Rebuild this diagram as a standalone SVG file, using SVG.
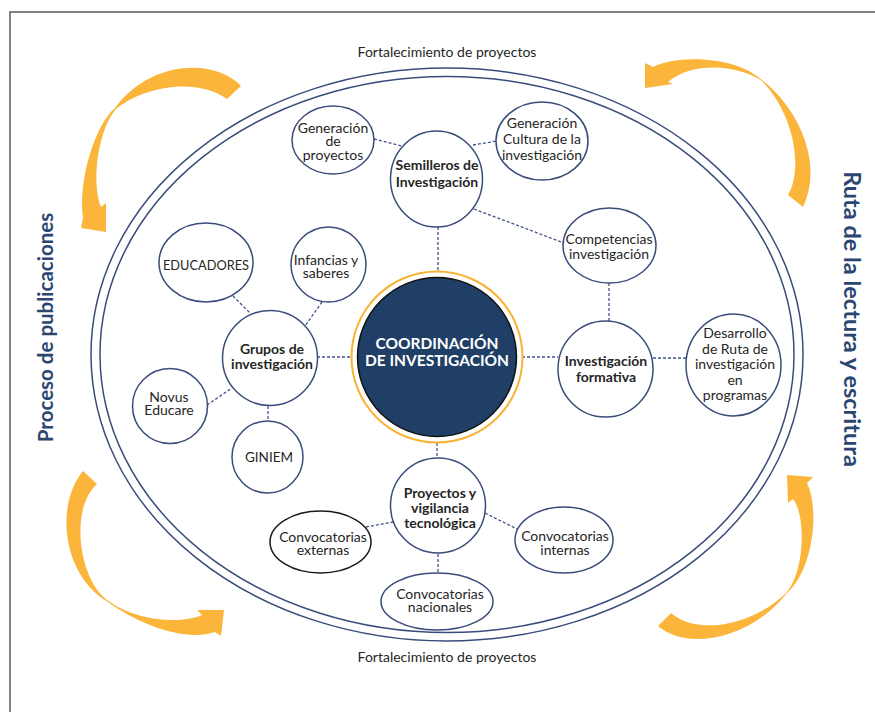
<svg xmlns="http://www.w3.org/2000/svg" width="875" height="712" viewBox="0 0 875 712">
<style>
  text { font-family: Lato, "Liberation Sans", sans-serif; fill: #262626; text-anchor: middle; }
  .lbl { font-size: 14px; }
  .b { font-size: 14px; font-weight: bold; }
  .node { fill: #ffffff; stroke: #3A4C7C; stroke-width: 1.5; }
  .ring { fill: none; stroke: #3A4C7C; stroke-width: 1.5; }
  .con line { stroke: #41528A; stroke-width: 1.3; stroke-dasharray: 3 2; fill: none; }
  .arrow { fill: #FBB53A; }
  .side { font-weight: bold; fill: #2B4670; }
</style>
<rect x="0" y="0" width="875" height="712" fill="#ffffff"/>
<path d="M10,712 L10,12 L875,12" fill="none" stroke="#595959" stroke-width="1.5"/>

<g id="frame-ellipses">
  <ellipse class="ring" cx="447" cy="354.5" rx="356" ry="286.5"/>
  <ellipse class="ring" cx="447" cy="354.5" rx="347" ry="278"/>
</g>

<g id="cycle-arrows">
  <path class="arrow" d="M241,86 C215,58 150,60 115,108 C95,125 78,180 83,218 L81,228 L106,232 L106,203 L101,207 C92,185 96,135 115,110 C140,88 195,76 227,99 Z"/>
  <path class="arrow" d="M645,63 L653,67 C675,55 735,55 762,80 C795,105 825,160 803,207 L788,195 C803,170 795,115 762,81 C740,66 695,60 668,82 L673,84 L645,88 Z"/>
  <path class="arrow" d="M83,471 C55,505 62,575 108,602 C140,625 185,642 215,632 L221,636 L224,610 L197,610 L202,615 C180,625 135,620 110,602 C80,585 68,510 97,484 Z"/>
  <path class="arrow" d="M658,626 C688,652 752,638 787,593 C813,570 820,510 807,483 L813,477 L787,475 L788,503 L793,499 C806,515 805,570 787,592 C758,622 700,638 671,613 Z"/>
</g>

<text class="lbl" x="447" y="57">Fortalecimiento de proyectos</text>
<text class="lbl" x="447" y="662">Fortalecimiento de proyectos</text>
<text class="side" font-size="20.5" transform="translate(53,327.5) rotate(-90)" x="0" y="0">Proceso de publicaciones</text>
<text class="side" font-size="23.5" transform="translate(844,319) rotate(90)" x="0" y="0">Ruta de la lectura y escritura</text>

<g id="connectors" class="con">
  <line x1="374" y1="139" x2="402" y2="146"/>
  <line x1="473" y1="145" x2="497" y2="141"/>
  <line x1="474" y1="209" x2="564" y2="243"/>
  <line x1="438" y1="227" x2="438" y2="270"/>
  <line x1="609" y1="283" x2="609" y2="321"/>
  <line x1="522" y1="357" x2="558" y2="357"/>
  <line x1="653" y1="358" x2="686" y2="358"/>
  <line x1="317" y1="357" x2="352" y2="357"/>
  <line x1="233" y1="296" x2="250" y2="313"/>
  <line x1="322" y1="302" x2="305" y2="326"/>
  <line x1="207" y1="405" x2="232" y2="388"/>
  <line x1="268" y1="406" x2="268" y2="421"/>
  <line x1="437" y1="443" x2="437" y2="457"/>
  <line x1="366" y1="527" x2="393" y2="522"/>
  <line x1="485" y1="513" x2="517" y2="529"/>
  <line x1="438" y1="554" x2="438" y2="573"/>
</g>

<g id="coordinacion">
  <circle cx="437" cy="357" r="85.5" fill="none" stroke="#F9B233" stroke-width="2"/>
  <circle cx="437" cy="357" r="79.5" fill="#203F66" stroke="#111111" stroke-width="1.5"/>
  <text font-size="15.5" font-weight="bold" style="fill:#ffffff"><tspan x="437" y="349">COORDINACIÓN</tspan><tspan x="437" y="365.5">DE INVESTIGACIÓN</tspan></text>
</g>

<g id="semilleros">
  <ellipse class="node" cx="436.5" cy="179" rx="46" ry="48"/>
  <text class="b"><tspan x="437" y="170">Semilleros de</tspan><tspan x="437" y="187">Investigación</tspan></text>
</g>
<g id="gen-proyectos">
  <ellipse class="node" cx="333" cy="140" rx="41" ry="34"/>
  <text class="lbl"><tspan x="333" y="132.5">Generación</tspan><tspan x="333" y="146">de</tspan><tspan x="333" y="159.5">proyectos</tspan></text>
</g>
<g id="gen-cultura">
  <ellipse class="node" cx="542" cy="141" rx="46" ry="39"/>
  <text class="lbl"><tspan x="542" y="128">Generación</tspan><tspan x="542" y="144">Cultura de la</tspan><tspan x="542" y="159.5">investigación</tspan></text>
</g>
<g id="competencias">
  <ellipse class="node" cx="609.5" cy="245.5" rx="46.5" ry="37.5"/>
  <text class="lbl"><tspan x="609" y="244">Competencias</tspan><tspan x="609" y="259">investigación</tspan></text>
</g>
<g id="inv-formativa">
  <ellipse class="node" cx="605.5" cy="369" rx="47.5" ry="48"/>
  <text class="b"><tspan x="606" y="366">Investigación</tspan><tspan x="606" y="382">formativa</tspan></text>
</g>
<g id="desarrollo">
  <ellipse class="node" cx="733.5" cy="365" rx="47.5" ry="51"/>
  <text class="lbl"><tspan x="735" y="338">Desarrollo</tspan><tspan x="735" y="353.5">de Ruta de</tspan><tspan x="735" y="369">investigación</tspan><tspan x="735" y="384.5">en</tspan><tspan x="735" y="400">programas</tspan></text>
</g>
<g id="grupos">
  <circle class="node" cx="270" cy="358" r="47.5"/>
  <text class="b"><tspan x="272" y="354">Grupos de</tspan><tspan x="272" y="369">investigación</tspan></text>
</g>
<g id="educadores">
  <ellipse class="node" cx="206" cy="262.5" rx="47" ry="39.5"/>
  <text class="lbl" x="206" y="270" style="font-size:12.8px">EDUCADORES</text>
</g>
<g id="infancias">
  <circle class="node" cx="328.5" cy="264.5" r="37.5"/>
  <text class="lbl"><tspan x="326" y="264.5">Infancias y</tspan><tspan x="326" y="278">saberes</tspan></text>
</g>
<g id="novus">
  <circle class="node" cx="170" cy="406" r="37.5"/>
  <text class="lbl"><tspan x="169" y="401.5">Novus</tspan><tspan x="169" y="415">Educare</tspan></text>
</g>
<g id="giniem">
  <ellipse class="node" cx="267.5" cy="457" rx="35.5" ry="36"/>
  <text class="lbl" x="269" y="462" style="font-size:13.5px">GINIEM</text>
</g>
<g id="proyectos">
  <circle class="node" cx="438" cy="505.5" r="47.5"/>
  <text class="b"><tspan x="440" y="498">Proyectos y</tspan><tspan x="440" y="513">vigilancia</tspan><tspan x="440" y="528">tecnológica</tspan></text>
</g>
<g id="conv-externas">
  <ellipse cx="320.5" cy="542" rx="50.5" ry="31" fill="#ffffff" stroke="#1a1a1a" stroke-width="1.5"/>
  <text class="lbl"><tspan x="323" y="541.5">Convocatorias</tspan><tspan x="323" y="555">externas</tspan></text>
</g>
<g id="conv-nacionales">
  <ellipse class="node" cx="437" cy="601.5" rx="56" ry="28.5"/>
  <text class="lbl"><tspan x="440" y="598.5">Convocatorias</tspan><tspan x="440" y="612">nacionales</tspan></text>
</g>
<g id="conv-internas">
  <ellipse class="node" cx="564" cy="540" rx="49" ry="33"/>
  <text class="lbl"><tspan x="565" y="541">Convocatorias</tspan><tspan x="565" y="554.5">internas</tspan></text>
</g>
</svg>
